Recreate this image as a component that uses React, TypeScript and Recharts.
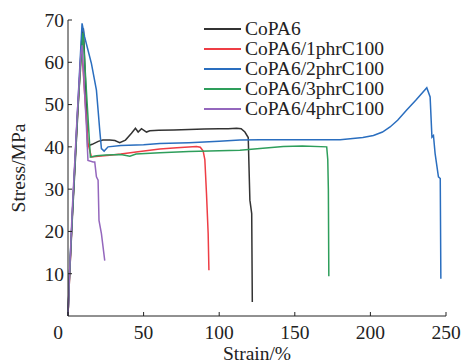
import React from 'react';
import { LineChart, Line, XAxis, YAxis, Legend } from 'recharts';

// strain (%) / stress (MPa) pairs, one pair of arrays per sample
const copa6Strain = [0, 1, 3, 6.5, 9, 10.2, 11.5, 13, 16, 20, 23, 27.6, 31, 34.2, 38, 42, 44.6, 46.4, 48.6, 51.9, 54.1, 60, 70, 80, 90, 100, 106, 111.5, 114.5, 117, 119.2, 120.3, 121.5, 121.9];
const copa6Stress = [0, 9, 24, 48, 65, 68, 56, 40.2, 40.6, 41.3, 41.6, 41.6, 41.5, 41.0, 41.6, 43.2, 44.4, 43.5, 44.3, 43.5, 43.8, 43.9, 44.0, 44.1, 44.2, 44.3, 44.3, 44.4, 44.3, 43.5, 42.2, 27.4, 24.2, 3.3];

const c1Strain = [0, 1, 3, 6, 8.3, 9.3, 11, 13.2, 15.5, 20, 27.6, 35, 45, 60.7, 72, 85, 87.5, 89.4, 90.5, 91.6, 92.7, 93.2];
const c1Stress = [0, 9, 25, 46, 60, 62.3, 52.6, 40.8, 37.6, 37.8, 38.0, 38.3, 38.8, 39.5, 39.8, 40.1, 39.9, 39.0, 37.0, 28.9, 19.5, 10.8];

const c2Strain = [0, 1, 3, 6.5, 9.3, 11, 13.2, 15.5, 18.8, 19.9, 21, 22.1, 23.9, 26.5, 35, 50, 60.7, 80, 100, 113.7, 127, 150, 180, 195, 202, 208, 213, 218, 224, 230, 237.3, 239.5, 240.7, 241.7, 242.8, 245, 246.2, 246.6];
const c2Stress = [0, 10, 25, 50, 69.2, 66, 62.9, 59.7, 53.4, 48.7, 43.9, 39.6, 39.0, 40.0, 40.3, 40.5, 40.8, 41.0, 41.3, 41.6, 41.7, 41.7, 41.7, 42.2, 42.7, 43.5, 44.7, 46.3, 48.7, 51.0, 54.0, 51.8, 42.3, 42.7, 38.4, 32.9, 32.5, 8.8];

const c3Strain = [0, 1, 3, 6.5, 9.9, 12.3, 14.8, 18.8, 25, 35, 40.9, 45, 60.7, 80, 100, 113.7, 127, 142.4, 155, 171.1, 171.8, 172.2, 172.5];
const c3Stress = [0, 10, 25, 49, 67, 52.5, 37.6, 37.9, 38.1, 38.2, 37.8, 38.3, 38.6, 38.9, 39.1, 39.2, 39.6, 40.1, 40.2, 40.0, 37.0, 30.0, 9.4];

const c4Strain = [0, 1, 2.8, 6, 8.5, 9.3, 10.4, 12.2, 13.2, 16.6, 17.7, 18.8, 19.9, 20.5, 22.1, 24.3];
const c4Stress = [0, 10, 25, 47, 62, 64, 56.6, 44.7, 36.8, 36.4, 36.4, 32.9, 32.1, 22.6, 19.5, 13.1];

const seriesNames = ['CoPA6', 'CoPA6/1phrC100', 'CoPA6/2phrC100', 'CoPA6/3phrC100', 'CoPA6/4phrC100'];
const seriesColors = ['#333333', '#ee3d45', '#2a6ebf', '#2e9e5b', '#9467bd'];

const xTicks = [0, 50, 100, 150, 200, 250];
const yTicks = [10, 20, 30, 40, 50, 60, 70];

const FONT = '"Liberation Serif", "Times New Roman", serif';

const toPoints = (xs: number[], ys: number[]) => xs.map((x, i) => ({ strain: x, stress: ys[i] }));

const series = [
  toPoints(copa6Strain, copa6Stress),
  toPoints(c1Strain, c1Stress),
  toPoints(c2Strain, c2Stress),
  toPoints(c3Strain, c3Stress),
  toPoints(c4Strain, c4Stress),
];

const XTick = (props: any) => {
  const { x, y, payload } = props;
  // the "0" sits left of the origin, as in the original figure
  const dx = payload.value === 0 ? -10 : 0;
  return (
    <text x={x + dx} y={y} dy="0.71em" textAnchor="middle" fill="#222" fontSize={19.5} fontFamily={FONT}>
      {payload.value}
    </text>
  );
};

const LegendBox = () => (
  <div style={{ fontFamily: FONT, fontSize: 19.5, color: '#222' }}>
    {seriesNames.map((name, i) => (
      <div key={name} style={{ display: 'flex', alignItems: 'center', height: 20, lineHeight: '20px', whiteSpace: 'nowrap' }}>
        <span style={{ display: 'inline-block', width: 37, height: 1.5, background: seriesColors[i], marginRight: 4 }} />
        <span>{name}</span>
      </div>
    ))}
  </div>
);

export default function App() {
  return (
    <div style={{ position: 'absolute', left: 0, top: 0, background: '#fff' }}>
      <LineChart width={461} height={364} margin={{ top: 20, right: 15, bottom: 0, left: 0 }}>
        <XAxis
          dataKey="strain"
          type="number"
          domain={[0, 250]}
          ticks={xTicks}
          allowDuplicatedCategory={false}
          height={48}
          tickSize={-4}
          tickMargin={13}
          tick={<XTick />}
          stroke="#222"
          label={{ value: 'Strain/%', position: 'insideBottom', offset: 4, fill: '#222', fontSize: 19.5, fontFamily: FONT }}
        />
        <YAxis
          dataKey="stress"
          type="number"
          domain={[0, 70]}
          ticks={yTicks}
          width={68}
          tickSize={-4}
          tickMargin={8}
          stroke="#222"
          tick={{ fill: '#222', fontSize: 19.5, fontFamily: FONT }}
          label={{
            content: (p: any) => {
              const vb = p.viewBox;
              const cy = vb.y + vb.height / 2;
              return (
                <text x={25} y={cy} transform={`rotate(-90 25 ${cy})`} textAnchor="middle" fill="#222" fontSize={19.5} fontFamily={FONT}>
                  Stress/MPa
                </text>
              );
            },
          }}
        />
        <Legend
          layout="vertical"
          verticalAlign="middle"
          align="center"
          content={<LegendBox />}
          wrapperStyle={{ left: 204, top: 19, width: 'auto', right: 'auto', bottom: 'auto' }}
        />
        {series.map((d, i) => (
          <Line
            key={seriesNames[i]}
            data={d}
            dataKey="stress"
            name={seriesNames[i]}
            type="linear"
            stroke={seriesColors[i]}
            strokeWidth={1.5}
            dot={false}
            activeDot={false}
            isAnimationActive={false}
          />
        ))}
      </LineChart>
    </div>
  );
}
